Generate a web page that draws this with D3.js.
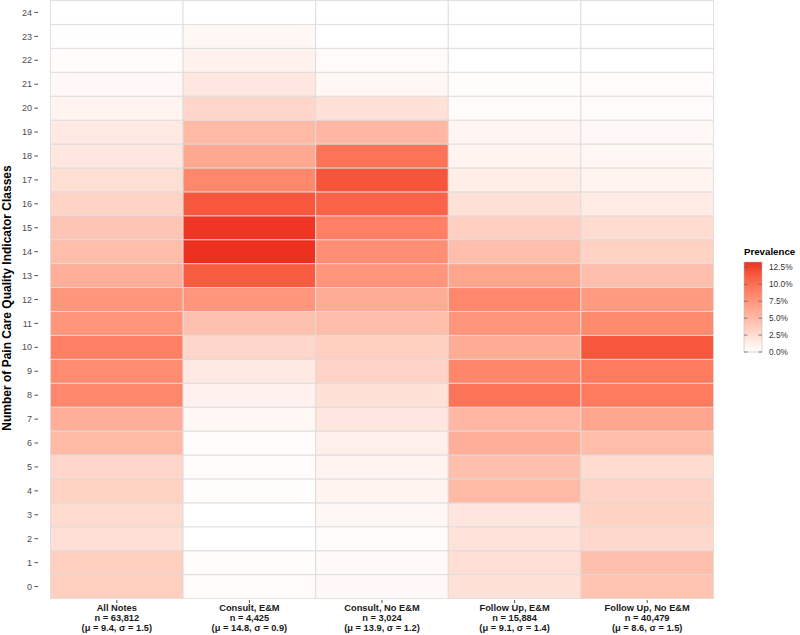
<!DOCTYPE html>
<html>
<head>
<meta charset="utf-8">
<script src="https://cdn.jsdelivr.net/npm/d3@7/dist/d3.min.js"></script>
<style>
html,body{margin:0;padding:0;background:#fff;}
svg{display:block;font-family:"Liberation Sans",Arial,sans-serif;}
</style>
</head>
<body>
<svg id="chart" width="800" height="635"></svg>
<script>
// Categories (x) with label lines
const categories = ["All Notes", "Consult, E&M", "Consult, No E&M", "Follow Up, E&M", "Follow Up, No E&M"];
const categoryN = ["n = 63,812", "n = 4,425", "n = 3,024", "n = 15,884", "n = 40,479"];
const categoryStats = ["(μ = 9.4, σ = 1.5)", "(μ = 14.8, σ = 0.9)", "(μ = 13.9, σ = 1.2)", "(μ = 9.1, σ = 1.4)", "(μ = 8.6, σ = 1.5)"];

// Number of classes (y), 0..24
const classes = d3.range(0, 25);

// Prevalence (%) per class 0..24 for each category
const allNotes      = [3.5, 3.5, 2.3, 2.7, 3.3, 3.0, 5.0, 5.8, 8.5, 8.2, 9.0, 7.5, 7.5, 5.8, 4.8, 4.2, 3.2, 2.4, 1.8, 1.6, 0.8, 0.5, 0.2, 0.05, 0.0];
const consultEM     = [0.3, 0.2, 0.0, 0.0, 0.1, 0.2, 0.3, 0.6, 1.0, 1.6, 3.0, 4.5, 7.5, 11.3, 13.3, 13.1, 11.5, 8.5, 6.3, 5.0, 3.0, 1.8, 1.0, 0.6, 0.0];
const consultNoEM   = [0.5, 0.4, 0.3, 0.6, 0.8, 0.8, 1.2, 1.8, 2.2, 3.2, 3.5, 4.8, 6.0, 7.5, 8.0, 9.0, 10.8, 11.6, 9.8, 5.2, 2.2, 0.6, 0.3, 0.0, 0.0];
const followUpEM    = [2.2, 2.4, 2.0, 1.9, 5.0, 4.6, 5.8, 5.2, 9.8, 8.6, 6.0, 7.6, 8.5, 6.5, 4.7, 3.4, 2.2, 1.3, 0.8, 0.7, 0.3, 0.1, 0.0, 0.0, 0.0];
const followUpNoEM  = [4.3, 4.6, 2.8, 3.3, 3.2, 2.6, 4.8, 6.5, 9.3, 9.3, 11.5, 8.3, 7.2, 4.7, 3.3, 2.6, 1.5, 0.8, 0.6, 0.5, 0.3, 0.2, 0.0, 0.0, 0.0];
const seriesValues = [allNotes, consultEM, consultNoEM, followUpEM, followUpNoEM];

// Legend ticks
const legendTicks = [0, 2.5, 5, 7.5, 10, 12.5];
const legendTitle = "Prevalence";
const yTitle = "Number of Pain Care Quality Indicator Classes";

const cells = [];
categories.forEach((c, i) => {
  classes.forEach((k, j) => cells.push({cat: c, cls: k, v: seriesValues[i][j]}));
});

const svg = d3.select("#chart");
const plot = {left: 50.5, right: 713.5, top: 0.5, bottom: 598.5};

const x = d3.scaleBand().domain(categories).range([plot.left, plot.right]).padding(0);
const y = d3.scaleBand().domain(classes).range([plot.bottom, plot.top]).padding(0);

const vmax = d3.max(cells, d => d.v);
const color = d3.scaleLinear().domain([0, vmax]).range(["#ffffff", "#ee3020"]).interpolate(d3.interpolateLab);

// tiles
svg.append("g").selectAll("rect").data(cells).join("rect")
  .attr("x", d => x(d.cat))
  .attr("y", d => y(d.cls))
  .attr("width", x.bandwidth())
  .attr("height", y.bandwidth())
  .attr("fill", d => color(d.v))
  .attr("stroke", "#dcdcdc")
  .attr("stroke-opacity", 0.85)
  .attr("stroke-width", 1);

// y axis
const yAxis = svg.append("g");
classes.forEach(k => {
  const cy = y(k) + y.bandwidth() / 2;
  yAxis.append("text")
    .attr("x", 32).attr("y", cy).attr("dy", "0.35em")
    .attr("text-anchor", "end")
    .attr("font-size", 9)
    .attr("fill", "#4d4d4d")
    .text(k);
  yAxis.append("line")
    .attr("x1", 34.5).attr("x2", 38).attr("y1", cy).attr("y2", cy)
    .attr("stroke", "#4d4d4d").attr("stroke-width", 1);
});

// y title
svg.append("text")
  .attr("transform", `translate(11,298) rotate(-90)`)
  .attr("text-anchor", "middle")
  .attr("font-size", 12)
  .attr("font-weight", "bold")
  .attr("fill", "#000")
  .text(yTitle);

// x axis
const xAxis = svg.append("g");
categories.forEach((c, i) => {
  const cx = x(c) + x.bandwidth() / 2;
  xAxis.append("line")
    .attr("x1", cx).attr("x2", cx).attr("y1", 600).attr("y2", 603)
    .attr("stroke", "#4d4d4d").attr("stroke-width", 1);
  const t = xAxis.append("text")
    .attr("text-anchor", "middle")
    .attr("font-size", 9.3)
    .attr("font-weight", "bold")
    .attr("fill", "#1a1a1a");
  [c, categoryN[i], categoryStats[i]].forEach((s, li) => {
    t.append("tspan").attr("x", cx).attr("y", 611 + li * 10.2).text(s);
  });
});

// legend
const lg = {x: 744, y: 262, w: 18, h: 90};
const defs = svg.append("defs");
const grad = defs.append("linearGradient").attr("id", "lgrad")
  .attr("x1", 0).attr("y1", 1).attr("x2", 0).attr("y2", 0);
d3.range(0, 1.0001, 0.05).forEach(t => {
  grad.append("stop").attr("offset", t).attr("stop-color", color(t * vmax));
});
svg.append("text")
  .attr("x", lg.x).attr("y", lg.y - 7)
  .attr("font-size", 9.7).attr("font-weight", "bold").attr("fill", "#000")
  .text(legendTitle);
svg.append("rect")
  .attr("x", lg.x).attr("y", lg.y).attr("width", lg.w).attr("height", lg.h)
  .attr("fill", "url(#lgrad)").attr("stroke", "#bdbdbd").attr("stroke-width", 0.6);
const ly = d3.scaleLinear().domain([0, vmax]).range([lg.y + lg.h, lg.y]);
legendTicks.forEach(v => {
  const yy = ly(v);
  svg.append("line").attr("x1", lg.x).attr("x2", lg.x + 3.5).attr("y1", yy).attr("y2", yy)
    .attr("stroke", "#666").attr("stroke-width", 0.8);
  svg.append("line").attr("x1", lg.x + lg.w - 3.5).attr("x2", lg.x + lg.w).attr("y1", yy).attr("y2", yy)
    .attr("stroke", "#666").attr("stroke-width", 0.8);
  svg.append("text")
    .attr("x", lg.x + lg.w + 7).attr("y", yy).attr("dy", "0.35em")
    .attr("font-size", 8.3).attr("fill", "#333")
    .text(v.toFixed(1) + "%");
});
</script>
</body>
</html>
